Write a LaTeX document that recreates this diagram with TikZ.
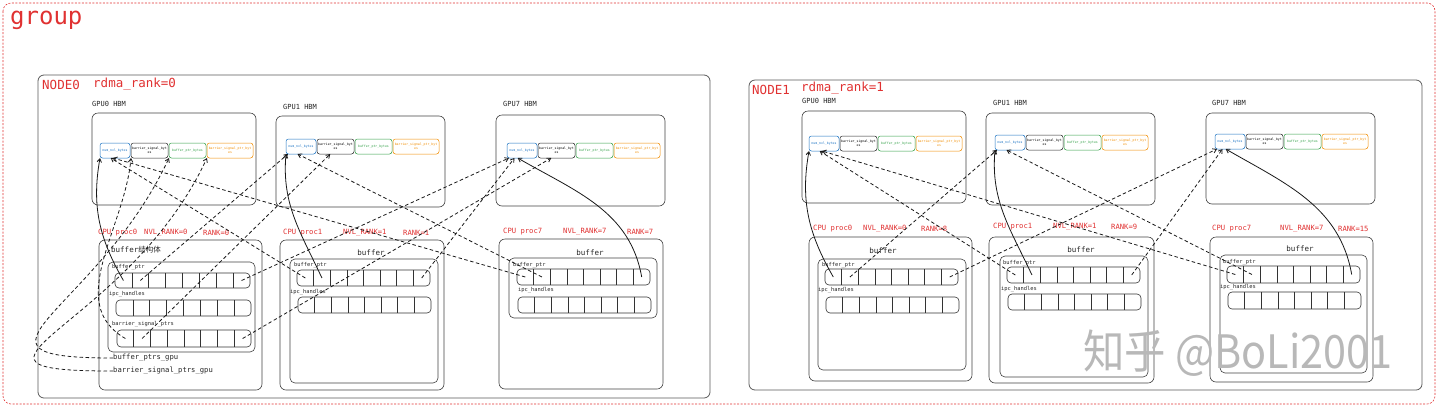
\documentclass[tikz,border=0pt]{standalone}
\usepackage{fontspec}
\setmainfont{DejaVu Sans Mono}
\newfontfamily\cjk{Noto Sans CJK SC}
\usetikzlibrary{arrows.meta, positioning, calc}

\definecolor{grpred}{HTML}{E03131}
\definecolor{numblue}{HTML}{1971C2}
\definecolor{bufgreen}{HTML}{2F9E44}
\definecolor{ptrorange}{HTML}{F08C00}

% one row of 8 pointer slots, cell centres are #1-0 ... #1-7
\newcommand{\ptrrow}[5]{%
	\node[rowbox, minimum width=#4pt, minimum height=#5pt, anchor=north west] (#1) at (#2,#3) {};
	\foreach \k in {1,...,7}
		\draw[rowline] ($(#1.north west)!\k/8!(#1.north east)$) -- ($(#1.south west)!\k/8!(#1.south east)$);
	\foreach \k in {0,...,7}
		\coordinate (#1-\k) at ($(#1.west)!{(\k+0.5)/8}!(#1.east)$);
}

% the four regions of one GPU buffer
\newcommand{\hbmrow}[3]{%
	\node[memcell, draw=numblue, text=numblue, minimum width=30pt, anchor=north west] (#1num) at (#2,#3) {num\_nvl\_bytes};
	\node[memcell, draw=black!85, right=1pt of #1num, minimum width=37pt] (#1bar) {barrier\_signal\_byt\\es};
	\node[memcell, draw=bufgreen, text=bufgreen, right=1pt of #1bar, minimum width=37pt] (#1buf) {buffer\_ptr\_bytes};
	\node[memcell, draw=ptrorange, text=ptrorange, right=1pt of #1buf, minimum width=46pt] (#1bptr) {barrier\_signal\_ptr\_byt\\es};
}

\begin{document}
\begin{tikzpicture}[x=1pt, y=-1pt,
	groupbox/.style={draw=grpred, line width=0.6, dash pattern=on 2pt off 1.5pt, rounded corners=8},
	nodebox/.style={draw=black!65, line width=0.8, rounded corners=6},
	hbmbox/.style={draw=black!75, line width=0.6, rounded corners=6},
	cpubox/.style={draw=black!75, line width=0.6, rounded corners=6},
	innerbox/.style={draw=black!75, line width=0.6, rounded corners=5},
	rowbox/.style={draw=black!80, line width=0.6, rounded corners=4, inner sep=0, outer sep=0},
	rowline/.style={draw=black!80, line width=0.6},
	memcell/.style={line width=0.5, rounded corners=2.5, minimum height=15pt, inner sep=0.5pt, outer sep=0, align=center, font=\fontsize{3.2}{3.8}\selectfont},
	grouplbl/.style={text=grpred, font=\fontsize{24}{26}\selectfont, anchor=west, inner sep=0},
	nodelbl/.style={text=grpred, font=\fontsize{12.5}{14}\selectfont, anchor=west, inner sep=0},
	redlbl/.style={text=grpred, font=\fontsize{7.2}{8}\selectfont, anchor=west, inner sep=0},
	hbmlbl/.style={text=black!85, font=\fontsize{7}{8}\selectfont, anchor=west, inner sep=0},
	buflbl/.style={text=black!85, font=\fontsize{7.5}{8}\selectfont, inner sep=0},
	fieldlbl/.style={text=black!85, font=\fontsize{5.4}{6}\selectfont, anchor=west, inner sep=0},
	gpulbl/.style={text=black!85, font=\fontsize{7.2}{8}\selectfont, anchor=west, inner sep=0},
	watermark/.style={text=black!28, font=\cjk\fontsize{46}{48}\selectfont, inner sep=0},
	own/.style={draw=black!90, line width=0.8, -{Straight Barb[length=3.5pt, width=4.5pt]}},
	ptr/.style={own, dash pattern=on 3.5pt off 2.5pt}]

	\useasboundingbox (0,0) rectangle (1440,408);
	\draw[groupbox] (3,3) rectangle (1435,404);
	\node[grouplbl] (grp) at (10,20) {group};

	% ---------------- NODE0 ----------------
	\draw[nodebox] (38,75) rectangle (710,398);
	\node[nodelbl] (n0name) at (42,85) {NODE0};
	\node[nodelbl] (n0rdma) at (93,84) {rdma\_rank=0};

	\node[hbmlbl] (n0h0) at (92,104) {GPU0 HBM};
	\draw[hbmbox] (92,113) rectangle (256,205);
	\hbmrow{n0g0}{100}{143}
	\node[hbmlbl] (n0h1) at (283,107) {GPU1 HBM};
	\draw[hbmbox] (276,116) rectangle (445,207);
	\hbmrow{n0g1}{286}{139}
	\node[hbmlbl] (n0h7) at (503,104) {GPU7 HBM};
	\draw[hbmbox] (496,115) rectangle (665,206);
	\hbmrow{n0g7}{507}{143}

	% CPU proc0
	\node[redlbl] (n0c0a) at (98,233) {CPU proc0};
	\node[redlbl] (n0c0b) at (144,233) {NVL\_RANK=0};
	\node[redlbl] (n0c0c) at (203,233) {RANK=0};
	\draw[cpubox] (99,240) rectangle (262,390);
	\node[buflbl, anchor=west] (n0b0) at (111,250) {buffer{\cjk 结构体}};
	\draw[innerbox] (108,262) rectangle (255,352);
	\node[fieldlbl] (n0f0a) at (112,267) {buffer\_ptr};
	\ptrrow{n0p0buf}{115}{273}{135}{15}
	\node[fieldlbl] (n0f0b) at (109,294) {ipc\_handles};
	\ptrrow{n0p0ipc}{116}{300}{135}{16}
	\node[fieldlbl] (n0f0c) at (112,324) {barrier\_signal\_ptrs};
	\ptrrow{n0p0bar}{117}{330}{134}{17}
	\node[gpulbl] (n0gpubuf) at (113,358) {buffer\_ptrs\_gpu};
	\node[gpulbl] (n0gpubar) at (113,371) {barrier\_signal\_ptrs\_gpu};

	% CPU proc1
	\node[redlbl] (n0c1a) at (283,233) {CPU proc1};
	\node[redlbl] (n0c1b) at (343,233) {NVL\_RANK=1};
	\node[redlbl] (n0c1c) at (403,233) {RANK=1};
	\draw[cpubox] (280,240) rectangle (444,390);
	\node[buflbl] (n0b1) at (371,253) {buffer};
	\draw[innerbox] (290,259) rectangle (438,383);
	\node[fieldlbl] (n0f1a) at (294,265) {buffer\_ptr};
	\ptrrow{n0p1buf}{297}{270}{133}{16}
	\node[fieldlbl] (n0f1b) at (290,292) {ipc\_handles};
	\ptrrow{n0p1ipc}{298}{297}{133}{16}

	% CPU proc7
	\node[redlbl] (n0c7a) at (503,232) {CPU proc7};
	\node[redlbl] (n0c7b) at (563,232) {NVL\_RANK=7};
	\node[redlbl] (n0c7c) at (627,232) {RANK=7};
	\draw[cpubox] (499,239) rectangle (663,389);
	\node[buflbl] (n0b7) at (590,253) {buffer};
	\draw[innerbox] (509,258) rectangle (657,318);
	\node[fieldlbl] (n0f7a) at (513,265) {buffer\_ptr};
	\ptrrow{n0p7buf}{517}{269}{133}{16}
	\node[fieldlbl] (n0f7b) at (518,290) {ipc\_handles};
	\ptrrow{n0p7ipc}{518}{297}{133}{16}

	% pointers inside NODE0
	\draw[own] (n0p0buf-0) to[out=120, in=-100] (n0g0num.south west);
	\draw[ptr] (n0p0buf-1) -- (n0g1num.-150);
	\draw[ptr] (n0p0buf-7) -- (n0g7num.-150);
	\draw[ptr] (n0p0bar-0) to[out=150, in=-95] (n0g0bar.south west);
	\draw[ptr] (n0p0bar-1) -- (n0g1bar.-125);
	\draw[ptr] (n0p0bar-7) -- (n0g7bar.-125);
	\draw[ptr] (n0gpubuf.west) to[out=180, in=-115, looseness=2.1] (n0g0buf.south west);
	\draw[ptr] (n0gpubar.west) to[out=180, in=-115, looseness=2.1] (n0g0bptr.south west);
	\draw[ptr] (n0p1buf-0) -- (n0g0num.-120);
	\draw[own] (n0p1buf-1) to[out=115, in=-95] (n0g1num.south west);
	\draw[ptr] (n0p1buf-7) -- (n0g7num.-135);
	\draw[ptr] (n0p7buf-0) -- (n0g0num.-105);
	\draw[ptr] (n0p7buf-1) -- (n0g1num.-115);
	\draw[own] (n0p7buf-7) to[out=100, in=-30] (n0g7num.-120);

	% ---------------- NODE1 ----------------
	\draw[nodebox] (749,80) rectangle (1422,390);
	\node[nodelbl] (n1name) at (752,90) {NODE1};
	\node[nodelbl] (n1rdma) at (801,88) {rdma\_rank=1};

	\node[hbmlbl] (n1h0) at (802,101) {GPU0 HBM};
	\draw[hbmbox] (802,111) rectangle (966,203);
	\hbmrow{n1g0}{809}{136}
	\node[hbmlbl] (n1h1) at (993,103) {GPU1 HBM};
	\draw[hbmbox] (986,113) rectangle (1155,205);
	\hbmrow{n1g1}{995}{135}
	\node[hbmlbl] (n1h7) at (1212,103) {GPU7 HBM};
	\draw[hbmbox] (1206,113) rectangle (1375,204);
	\hbmrow{n1g7}{1215}{134}

	% CPU proc0
	\node[redlbl] (n1c0a) at (813,229) {CPU proc0};
	\node[redlbl] (n1c0b) at (863,229) {NVL\_RANK=0};
	\node[redlbl] (n1c0c) at (921,229) {RANK=8};
	\draw[cpubox] (809,237) rectangle (972,381);
	\node[buflbl] (n1b0) at (883,251) {buffer};
	\draw[innerbox] (818,259) rectangle (966,370);
	\node[fieldlbl] (n1f0a) at (822,265) {buffer\_ptr};
	\ptrrow{n1p0buf}{825}{269}{133}{16}
	\node[fieldlbl] (n1f0b) at (818,290) {ipc\_handles};
	\ptrrow{n1p0ipc}{826}{297}{133}{16}

	% CPU proc1
	\node[redlbl] (n1c1a) at (993,227) {CPU proc1};
	\node[redlbl] (n1c1b) at (1053,227) {NVL\_RANK=1};
	\node[redlbl] (n1c1c) at (1111,227) {RANK=9};
	\draw[cpubox] (989,237) rectangle (1154,383);
	\node[buflbl] (n1b1) at (1081,250) {buffer};
	\draw[innerbox] (1000,256) rectangle (1148,377);
	\node[fieldlbl] (n1f1a) at (1003,263) {buffer\_ptr};
	\ptrrow{n1p1buf}{1007}{267}{133}{16}
	\node[fieldlbl] (n1f1b) at (1001,289) {ipc\_handles};
	\ptrrow{n1p1ipc}{1008}{294}{133}{16}

	% CPU proc7
	\node[redlbl] (n1c7a) at (1212,229) {CPU proc7};
	\node[redlbl] (n1c7b) at (1280,229) {NVL\_RANK=7};
	\node[redlbl] (n1c7c) at (1338,229) {RANK=15};
	\draw[cpubox] (1210,237) rectangle (1373,382);
	\node[buflbl] (n1b7) at (1300,249) {buffer};
	\draw[innerbox] (1220,255) rectangle (1367,373);
	\node[fieldlbl] (n1f7a) at (1223,262) {buffer\_ptr};
	\ptrrow{n1p7buf}{1227}{266}{133}{17}
	\node[fieldlbl] (n1f7b) at (1220,287) {ipc\_handles};
	\ptrrow{n1p7ipc}{1228}{292}{133}{17}

	% pointers inside NODE1
	\draw[own] (n1p0buf-0) to[out=120, in=-100] (n1g0num.south west);
	\draw[ptr] (n1p0buf-1) -- (n1g1num.-150);
	\draw[ptr] (n1p0buf-7) -- (n1g7num.-150);
	\draw[ptr] (n1p1buf-0) -- (n1g0num.-120);
	\draw[own] (n1p1buf-1) to[out=115, in=-95] (n1g1num.south west);
	\draw[ptr] (n1p1buf-7) -- (n1g7num.-135);
	\draw[ptr] (n1p7buf-0) -- (n1g0num.-105);
	\draw[ptr] (n1p7buf-1) -- (n1g1num.-115);
	\draw[own] (n1p7buf-7) to[out=100, in=-30] (n1g7num.-120);

	\node[watermark] (wm) at (1238,353) {\scalebox{0.9}[1]{知乎 @BoLi2001}};
\end{tikzpicture}
\end{document}
